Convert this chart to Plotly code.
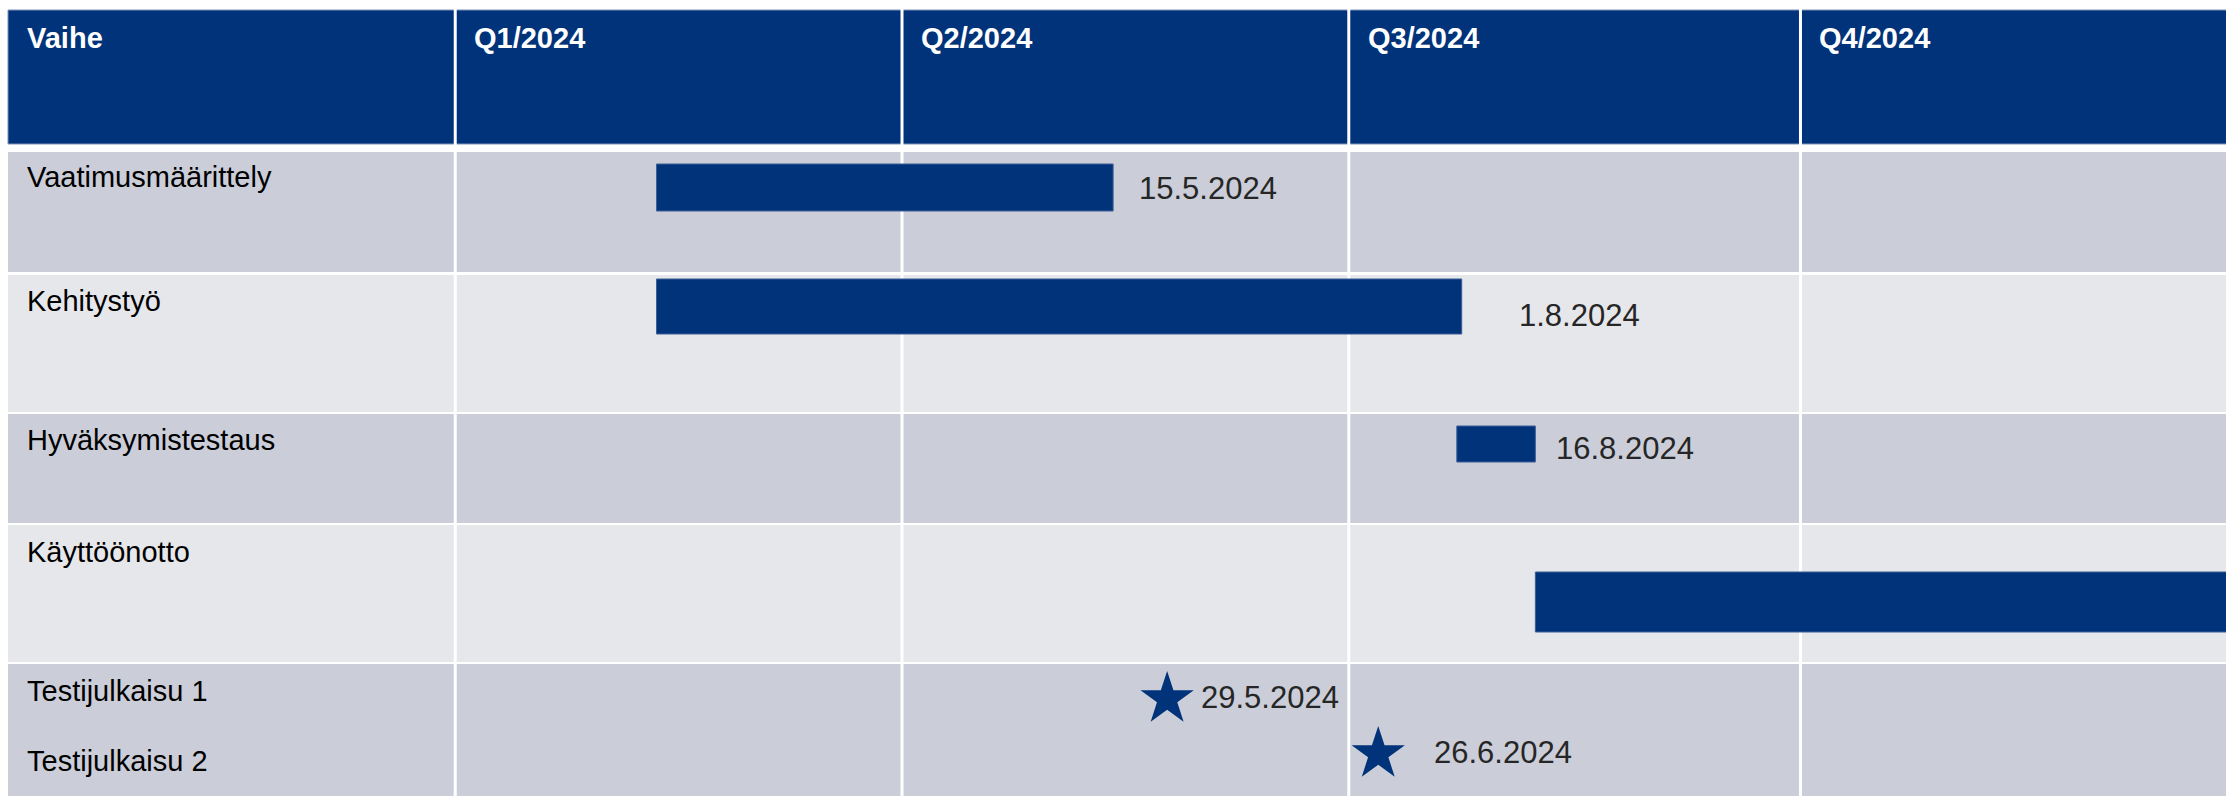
import plotly.graph_objects as go
import pandas as pd
import numpy as np

# ---------------- data ----------------
header_labels = ["Vaihe", "Q1/2024", "Q2/2024", "Q3/2024", "Q4/2024"]
quarter_starts = ["2024-01-01", "2024-04-01", "2024-07-01", "2024-10-01"]

phases = ["Vaatimusmäärittely", "Kehitystyö", "Hyväksymistestaus", "Käyttöönotto"]
phase_start = ["2024-02-11", "2024-02-11", "2024-07-23", "2024-08-08"]
phase_end = ["2024-05-14", "2024-07-24", "2024-08-08", "2024-12-31"]
phase_end_labels = ["15.5.2024", "1.8.2024", "16.8.2024", ""]

milestones = ["Testijulkaisu 1", "Testijulkaisu 2"]
milestone_dates = ["2024-05-25", "2024-07-07"]
milestone_labels = ["29.5.2024", "26.6.2024"]

# ---------------- layout / style ----------------
W, H = 2226, 796
NAVY = "#003379"
ROW_DARK = "#CBCED8"
ROW_LIGHT = "#E6E7EB"
TXT = "#000000"
DATE_TXT = "#262626"
FONT = "Liberation Sans, Arial, sans-serif"

X_LEFT = 8                                # left edge of table (px)
QUARTER_PX = [454, 903, 1350.5, 1799]     # pixel of each quarter column start
q_first = pd.Timestamp(quarter_starts[0])
q_days = [(pd.Timestamp(q) - q_first).days for q in quarter_starts]
PPD, X0 = np.polyfit(q_days, QUARTER_PX, 1)


def px2date(px):
    return q_first + pd.Timedelta(days=(px - X0) / PPD)


HEADER = (10, 144)
ROWS = [(152, 272), (275, 412), (414, 523), (525, 662), (664, 830)]
ROW_COLORS = [ROW_DARK, ROW_LIGHT, ROW_DARK, ROW_LIGHT, ROW_DARK]
BAR_Y = [187.5, 306.5, 444, 602]
BAR_H = [47, 55, 36, 60]
DATE_LABEL_Y = [188, 315, 448, 602]
DATE_LABEL_SHIFT = [24, 55, 19, 19]
ROW_TEXT_Y = [177, 301, 440, 551.5]
MS_Y = [699, 754]
MS_TEXT_Y = [691, 761]
MS_LABEL_Y = [697, 752]
MS_LABEL_SHIFT = [32, 54]
TEXT_PAD = 17

fig = go.Figure()

# bars
durations = [
    (pd.Timestamp(e) - pd.Timestamp(s)).total_seconds() * 1000
    for s, e in zip(phase_start, phase_end)
]
fig.add_trace(go.Bar(
    y=BAR_Y, x=durations, base=phase_start, orientation="h", width=BAR_H,
    marker=dict(color=NAVY, line=dict(color="#3d5f96", width=1)),
    hoverinfo="skip", showlegend=False,
))

# milestones
fig.add_trace(go.Scatter(
    x=milestone_dates, y=MS_Y, mode="markers",
    marker=dict(symbol="star", size=40, color=NAVY, line=dict(width=0)),
    hoverinfo="skip", showlegend=False,
))

shapes = []
x_far = px2date(W + 100)
x_left = px2date(X_LEFT)
shapes.append(dict(type="rect", xref="x", yref="y", x0=x_left, x1=x_far,
                   y0=HEADER[0], y1=HEADER[1], fillcolor=NAVY,
                   line=dict(color="#7f93b8", width=1), layer="below"))
for (t, b), c in zip(ROWS, ROW_COLORS):
    shapes.append(dict(type="rect", xref="x", yref="y", x0=x_left, x1=x_far,
                       y0=t, y1=b, fillcolor=c, line=dict(width=0), layer="below"))
for q in quarter_starts:
    shapes.append(dict(type="line", xref="x", yref="y", x0=q, x1=q,
                       y0=HEADER[0] - 1, y1=H + 40,
                       line=dict(color="white", width=3), layer="below"))

annotations = []
# header texts
col_lefts = [x_left] + quarter_starts
for lab, xl in zip(header_labels, col_lefts):
    annotations.append(dict(x=xl, y=37.5, xref="x", yref="y", text=f"<b>{lab}</b>",
                            showarrow=False, xanchor="left", yanchor="middle",
                            xshift=TEXT_PAD, font=dict(family=FONT, size=29, color="white")))
# row labels
for lab, yy in zip(phases, ROW_TEXT_Y):
    annotations.append(dict(x=x_left, y=yy, xref="x", yref="y", text=lab,
                            showarrow=False, xanchor="left", yanchor="middle",
                            xshift=TEXT_PAD, font=dict(family=FONT, size=29, color=TXT)))
for lab, yy in zip(milestones, MS_TEXT_Y):
    annotations.append(dict(x=x_left, y=yy, xref="x", yref="y", text=lab,
                            showarrow=False, xanchor="left", yanchor="middle",
                            xshift=TEXT_PAD, font=dict(family=FONT, size=29, color=TXT)))
# date labels for bars
for lab, xe, yy, sh in zip(phase_end_labels, phase_end, DATE_LABEL_Y, DATE_LABEL_SHIFT):
    if lab:
        annotations.append(dict(x=xe, y=yy, xref="x", yref="y", text=lab,
                                showarrow=False, xanchor="left", yanchor="middle",
                                xshift=sh, font=dict(family=FONT, size=31, color=DATE_TXT)))
# date labels for milestones
for lab, xd, yy, sh in zip(milestone_labels, milestone_dates, MS_LABEL_Y, MS_LABEL_SHIFT):
    annotations.append(dict(x=xd, y=yy, xref="x", yref="y", text=lab,
                            showarrow=False, xanchor="left", yanchor="middle",
                            xshift=sh, font=dict(family=FONT, size=31, color=DATE_TXT)))

fig.update_layout(
    width=W, height=H,
    margin=dict(l=0, r=0, t=0, b=0, pad=0),
    paper_bgcolor="white", plot_bgcolor="white",
    xaxis=dict(type="date", range=[px2date(0), px2date(W)], visible=False,
               showgrid=False, zeroline=False, fixedrange=True),
    yaxis=dict(range=[H, 0], visible=False, showgrid=False, zeroline=False,
               fixedrange=True),
    shapes=shapes, annotations=annotations,
    bargap=0, showlegend=False,
    font=dict(family=FONT),
)

fig.write_html(
    "out.html",
    config={"displayModeBar": False, "staticPlot": True},
    post_script="document.body.style.margin='0';document.body.style.overflow='hidden';",
)
